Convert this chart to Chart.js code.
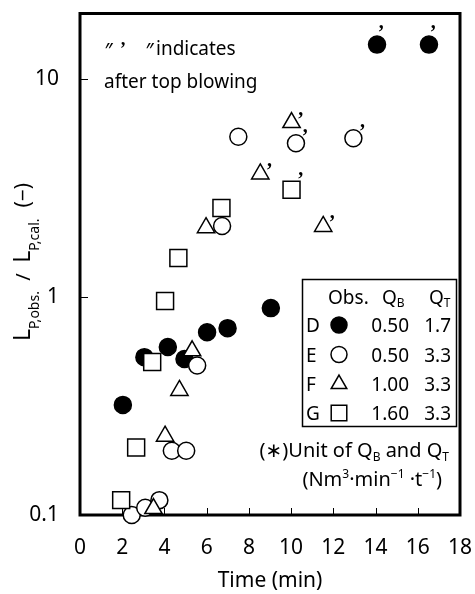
<!DOCTYPE html>
<html lang="en">

<head>
    <meta charset="UTF-8">
    <title>L_P,obs. / L_P,cal. vs time</title>
    <style>
        body { margin: 0; background: #fff; }
    </style>
</head>

<body>
    <canvas id="myChart" width="475" height="594"></canvas>
    <script src="https://cdn.jsdelivr.net/npm/chart.js"></script>
    <script>
        // series D (filled circle)
        const timeD = [2.03, 3.05, 4.16, 4.95, 6.02, 6.99, 9.04, 14.07, 16.53];
        const ratioD = [0.32, 0.53, 0.59, 0.52, 0.69, 0.72, 0.89, 14.4, 14.4];
        const primeD = [0, 0, 0, 0, 0, 0, 0, 1, 1];
        // series E (open circle)
        const timeE = [2.45, 3.09, 3.76, 4.35, 5.03, 5.55, 6.73, 7.5, 10.23, 12.95];
        const ratioE = [0.100, 0.108, 0.117, 0.197, 0.197, 0.485, 2.12, 5.44, 5.08, 5.35];
        const primeE = [0, 0, 0, 0, 0, 0, 0, 0, 1, 1];
        // series F (triangle)
        const timeF = [3.48, 4.03, 4.71, 5.31, 5.97, 8.54, 10.02, 11.52];
        const ratioF = [0.107, 0.230, 0.373, 0.567, 2.08, 3.67, 6.32, 2.11];
        const primeF = [0, 0, 0, 0, 0, 1, 1, 1];
        // series G (square)
        const timeG = [1.95, 2.66, 3.42, 4.03, 4.66, 6.7, 10.02];
        const ratioG = [0.117, 0.204, 0.503, 0.959, 1.51, 2.56, 3.11];
        const primeG = [0, 0, 0, 0, 0, 0, 1];

        const xTicks = [0, 2, 4, 6, 8, 10, 12, 14, 16, 18];
        const yTicks = [0.1, 1, 10];

        const legendLetters = ['D', 'E', 'F', 'G'];
        const legendQB = ['0.50', '0.50', '1.00', '1.60'];
        const legendQT = ['1.7', '3.3', '3.3', '3.3'];

        const FONT = '"Noto Sans", "DejaVu Sans", sans-serif';

        let series = (label, xs, ys, primes, style, radius, fill, order, pdx, pdy) => ({
            label: label,
            data: xs.map((t, i) => ({ x: t, y: ys[i] })),
            primes: primes,
            primeOffset: [pdx, pdy],
            pointStyle: style,
            pointRadius: radius,
            pointHoverRadius: radius,
            pointBackgroundColor: fill,
            pointBorderColor: '#000',
            pointBorderWidth: 1.5,
            showLine: false,
            clip: false,
            order: order
        });

        const datasets = [
            series('D', timeD, ratioD, primeD, 'circle', 8.5, '#000', 4, 4, -17),
            series('E', timeE, ratioE, primeE, 'circle', 8.5, '#fff', 3, 9, -11),
            series('F', timeF, ratioF, primeF, 'triangle', 10, '#fff', 2, 9, -8),
            series('G', timeG, ratioG, primeG, 'rect', 12, '#fff', 1, 9, -15)
        ];

        // draw a run of text pieces: [text, size, dy]
        let drawRuns = (ctx, parts, x, y, align) => {
            let w = 0;
            parts.forEach(p => {
                ctx.font = p[1] + 'px ' + FONT;
                w += ctx.measureText(p[0]).width;
            });
            let cx = align === 'right' ? x - w : align === 'center' ? x - w / 2 : x;
            ctx.textAlign = 'left';
            ctx.textBaseline = 'alphabetic';
            parts.forEach(p => {
                ctx.font = p[1] + 'px ' + FONT;
                ctx.fillText(p[0], cx, y + (p[2] || 0));
                cx += ctx.measureText(p[0]).width;
            });
        };

        let marker = (ctx, ds, x, y) => {
            ctx.fillStyle = ds.pointBackgroundColor;
            ctx.strokeStyle = '#000';
            ctx.lineWidth = 1.5;
            Chart.helpers.drawPoint(ctx, {
                pointStyle: ds.pointStyle,
                radius: ds.pointStyle === 'rect' ? 11 : ds.pointStyle === 'triangle' ? 9 : 8,
                borderWidth: 1.5,
                rotation: 0
            }, x, y);
        };

        const frame = {
            id: 'frame',
            beforeDatasetsDraw(chart) {
                const { ctx, chartArea: a, scales: { x, y } } = chart;
                ctx.save();
                ctx.strokeStyle = '#000';
                ctx.lineWidth = 1;
                ctx.beginPath();
                x.ticks.forEach(t => {
                    if (t.value <= x.min || t.value >= x.max) return;
                    const px = Math.round(x.getPixelForValue(t.value)) + 0.5;
                    ctx.moveTo(px, a.bottom);
                    ctx.lineTo(px, a.bottom - 7);
                });
                y.ticks.forEach(t => {
                    if (t.value <= y.min || t.value >= y.max) return;
                    const py = Math.round(y.getPixelForValue(t.value)) + 0.5;
                    ctx.moveTo(a.left, py);
                    ctx.lineTo(a.left + 8, py);
                });
                ctx.stroke();
                ctx.lineWidth = 3;
                ctx.strokeRect(a.left, a.top, a.right - a.left, a.bottom - a.top);
                ctx.restore();
            },
            afterDraw(chart) {
                const { ctx, chartArea: a } = chart;
                ctx.save();
                ctx.fillStyle = '#000';

                // primes
                chart.data.datasets.forEach((ds, di) => {
                    const meta = chart.getDatasetMeta(di);
                    meta.data.forEach((pt, i) => {
                        if (!ds.primes[i]) return;
                        ctx.font = 'bold 20px "Liberation Serif"';
                        ctx.textAlign = 'center';
                        ctx.textBaseline = 'alphabetic';
                        ctx.fillText('\u2019', pt.x + ds.primeOffset[0], pt.y + ds.primeOffset[1] + 11);
                    });
                });

                // note top-left
                ctx.font = 'italic 20px ' + FONT;
                ctx.textAlign = 'left';
                ctx.textBaseline = 'alphabetic';
                ctx.fillText('\u2033', 104, 57);
                ctx.fillText('\u2033', 145, 57);
                ctx.font = 'bold 18px "Liberation Serif"';
                ctx.fillText('\u2019', 120, 55);
                ctx.font = '19px ' + FONT;
                ctx.fillText('indicates', 156, 55);
                ctx.fillText('after top blowing', 104, 88);

                // legend box
                ctx.lineWidth = 1.5;
                ctx.strokeStyle = '#000';
                ctx.strokeRect(302.5, 279.5, 154, 147);
                drawRuns(ctx, [['Obs.', 19]], 328, 304, 'left');
                drawRuns(ctx, [['Q', 19], ['B', 12, 3]], 382, 304, 'left');
                drawRuns(ctx, [['Q', 19], ['T', 12, 3]], 429, 304, 'left');
                const rowY = [325, 354.5, 384, 413];
                legendLetters.forEach((l, i) => {
                    const yy = rowY[i];
                    ctx.fillStyle = '#000';
                    drawRuns(ctx, [[l, 19]], 306, yy + 7, 'left');
                    drawRuns(ctx, [[legendQB[i], 19]], 409, yy + 7, 'right');
                    drawRuns(ctx, [[legendQT[i], 19]], 451, yy + 7, 'right');
                    marker(ctx, chart.data.datasets[i], 339, yy);
                });

                // unit note
                ctx.fillStyle = '#000';
                drawRuns(ctx, [['(\u2217)Unit of Q', 20], ['B', 12, 4], [' and Q', 20], ['T', 12, 4]], 449, 457, 'right');
                drawRuns(ctx, [['(Nm', 20], ['3', 12, -8], ['\u00B7min', 20], ['\u22121', 12, -8], [' \u00B7t', 20], ['\u22121', 12, -8], [')', 20]], 442, 486, 'right');

                // y axis title
                ctx.translate(30, 262);
                ctx.rotate(-Math.PI / 2);
                drawRuns(ctx, [['L', 23], ['P,obs.', 14, 9], ['  /  ', 20], ['L', 23], ['P,cal.', 14, 9], ['  (\u2212)', 21]], 0, 0, 'center');
                ctx.restore();
            }
        };

        const config = {
            type: 'scatter',
            data: { datasets: datasets },
            options: {
                responsive: false,
                animation: false,
                devicePixelRatio: 1,
                layout: { padding: { top: 12, right: 15, left: 0, bottom: 0 } },
                plugins: {
                    legend: { display: false },
                    tooltip: { enabled: false }
                },
                scales: {
                    x: {
                        type: 'linear',
                        min: 0,
                        max: 18,
                        grid: { display: false, drawTicks: false },
                        border: { display: false },
                        afterBuildTicks: s => { s.ticks = xTicks.map(v => ({ value: v })); },
                        ticks: {
                            padding: 20,
                            color: '#000',
                            maxRotation: 0,
                            font: { family: FONT, size: 21 }
                        },
                        title: {
                            display: true,
                            text: 'Time (min)',
                            color: '#000',
                            font: { family: FONT, size: 21, lineHeight: 1.2 },
                            padding: { top: 0, bottom: 0 }
                        },
                        afterFit: s => {
                            s.height = 79;
                            s.paddingLeft = 0;
                            s.paddingRight = 0;
                        }
                    },
                    y: {
                        type: 'logarithmic',
                        min: 0.1,
                        max: 20,
                        grid: { display: false, drawTicks: false },
                        border: { display: false },
                        afterBuildTicks: s => { s.ticks = yTicks.map(v => ({ value: v })); },
                        ticks: {
                            padding: 21,
                            color: '#000',
                            font: { family: FONT, size: 21 },
                            callback: v => String(v)
                        },
                        afterFit: s => {
                            s.width = 80;
                            s.paddingTop = 0;
                            s.paddingBottom = 0;
                        }
                    }
                }
            },
            plugins: [frame]
        };

        const myChart = new Chart(document.getElementById('myChart'), config);
    </script>
</body>

</html>
